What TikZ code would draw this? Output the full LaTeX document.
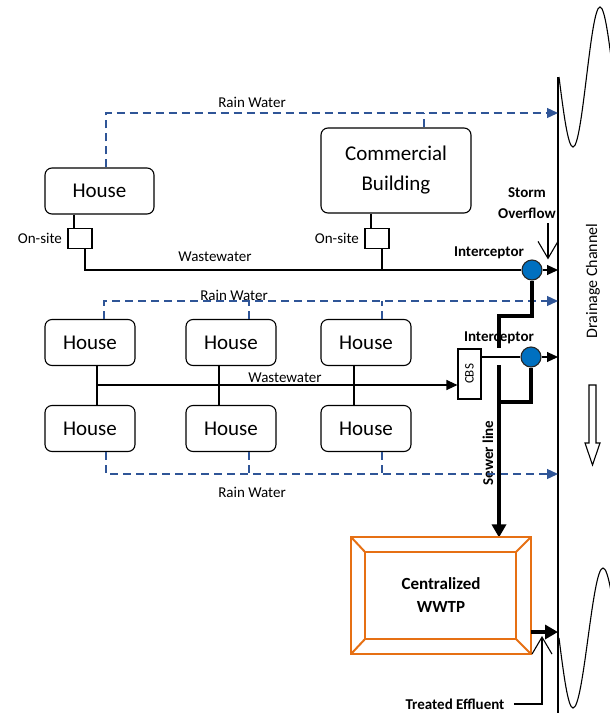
\documentclass[tikz,border=0pt]{standalone}
\usepackage{fontspec}
\setmainfont{Carlito}
\usetikzlibrary{arrows.meta,positioning}
\definecolor{rainblue}{RGB}{47,85,151}
\definecolor{ipblue}{RGB}{0,112,192}
\definecolor{plantorange}{RGB}{230,112,20}
\begin{document}
\begin{tikzpicture}[x=1pt, y=-1pt, line width=1.1pt, font=\fontsize{15}{18}\selectfont]
\tikzstyle{house} = [draw, rounded corners=7pt, minimum width=90pt, minimum height=46pt, font=\fontsize{21}{25}\selectfont]
\tikzstyle{site} = [draw, minimum width=24pt, minimum height=20pt, inner sep=0pt]
\tikzstyle{ip} = [circle, draw=black!85, fill=ipblue, minimum size=20pt, inner sep=0pt]
\tikzstyle{lbl} = [inner sep=1pt, font=\fontsize{15}{18}\selectfont\bfseries]
\tikzstyle{rain} = [draw=rainblue, line width=1.3pt, dash pattern=on 8pt off 5pt]
\tikzstyle{tip} = [-{Triangle[length=11pt, width=10pt]}]
\tikzstyle{sewer} = [line width=4.5pt]
\tikzstyle{plt} = [draw=plantorange, line width=2pt]
\tikzstyle{barb} = [-{Straight Barb[length=17pt, width=20pt]}]

\useasboundingbox (0,0) rectangle (610,713);
\clip (0,0) rectangle (610,713);

\coordinate (dtop) at (558,77);
\coordinate (dbot) at (558,713);
\coordinate (r1) at (558,113);
\coordinate (r2) at (558,301);
\coordinate (r3) at (558,474);

\node[house, minimum width=109pt] (h1) at (99.5,191) {House};
\node[house, minimum width=150pt, minimum height=85pt, align=center, font=\fontsize{21}{30}\selectfont] (cb) at (396,170.5) {Commercial\\Building};
\node[site] (s1) at (80,238.5) {};
\node[site] (s2) at (377,238.5) {};
\node[left=4pt of s1, inner sep=1pt] {On-site};
\node[left=4pt of s2, inner sep=1pt] {On-site};

\node[house] (g1) at (90,342.5) {House};
\node[house] (g2) at (231,342.5) {House};
\node[house] (g3) at (366,342.5) {House};
\node[house] (g4) at (90,428.5) {House};
\node[house] (g5) at (231,428.5) {House};
\node[house] (g6) at (366,428.5) {House};

\node[ip] (ip1) at (532,270) {};
\node[ip] (ip2) at (531,357) {};
\node[draw, minimum width=23pt, minimum height=50pt, inner sep=0pt] (cbs) at (469.5,374) {};
\node[rotate=90, font=\fontsize{13}{15}\selectfont] at (cbs) {CBS};

\node[draw=none, minimum width=178pt, minimum height=115pt, align=center, font=\fontsize{17}{23}\selectfont\bfseries] (wwtp) at (441,595.5) {Centralized\\WWTP};

% labels
\node at (252,102) {Rain Water};
\node at (215,257) {Wastewater};
\node at (234,295) {Rain Water};
\node at (285,378) {Wastewater};
\node at (252,492) {Rain Water};
\node[lbl, align=center, font=\fontsize{15}{21}\selectfont\bfseries] at (527,203.5) {Storm\\Overflow};
\node[lbl] at (489,253) {Interceptor};
\node[lbl] at (499,338) {Interceptor};
\node[lbl, rotate=90] at (488,453) {Sewer line};
\node[lbl] (tef) at (455,704) {Treated Effluent};
\node[rotate=90, font=\fontsize{16}{19}\selectfont] at (593,281) {Drainage Channel};

% drainage channel
\draw (dtop) -- (dbot);
\draw (559,77) sin (573,147) cos (586.5,77) sin (600,7) cos (613.5,77);
\draw (559,638) sin (573,708) cos (588,638) sin (603,568) cos (618,638);
\draw (589,385) -- (596,385) -- (596,443) -- (600,443) -- (592.5,465) -- (585,443) -- (589,443) -- cycle;

% rain water
\draw[rain, tip, rainblue] ([xshift=6.5pt]h1.north) |- (r1);
\draw[rain] ([xshift=28pt]cb.north) -- ([xshift=28pt]cb.north |- r1);
\draw[rain, tip, rainblue] ([xshift=14pt]g1.north) |- (r2);
\draw[rain] ([xshift=18pt]g2.north) -- ([xshift=18pt]g2.north |- r2);
\draw[rain] ([xshift=16pt]g3.north) -- ([xshift=16pt]g3.north |- r2);
\draw[rain, tip, rainblue] ([xshift=16pt]g4.south) |- (r3);
\draw[rain] ([xshift=18pt]g5.south) -- ([xshift=18pt]g5.south |- r3);
\draw[rain] ([xshift=16pt]g6.south) -- ([xshift=16pt]g6.south |- r3);

% wastewater
\draw ([xshift=-25.5pt]h1.south) -- ([xshift=-6pt]s1.north);
\draw ([xshift=-25pt]cb.south) -- ([xshift=-6pt]s2.north);
\draw ([xshift=5pt]s1.south) |- (ip1.west);
\draw ([xshift=5pt]s2.south) -- ([xshift=5pt]s2.south |- ip1.west);
\draw ([xshift=7pt]g1.south) -- ([xshift=7pt]g4.north);
\draw ([xshift=-12pt]g2.south) -- ([xshift=-12pt]g5.north);
\draw ([xshift=-12pt]g3.south) -- ([xshift=-12pt]g6.north);
\coordinate (w2) at (97,385);
\draw[tip] (w2) -- (w2 -| cbs.west);
\draw (ip2.west -| cbs.east) -- (ip2.west);
\draw[tip] (ip1.east) -- (ip1.east -| dtop);
\draw[tip] (ip2.east) -- (ip2.east -| dtop);
\coordinate (so) at (548,223);
\draw[barb] (so) -- (so |- ip1.north);

% sewer line
\coordinate (sw1) at (499,316);
\coordinate (sw2) at (499,348);
\coordinate (sw3) at (499,365);
\coordinate (sw4) at (499,402);
\draw[sewer] (ip1.south) |- (sw1) -- (sw2);
\draw[sewer] (ip2.south) |- (sw4);
\draw[sewer, -{Triangle[length=13pt, width=14pt]}] (sw3) -- (sw3 |- wwtp.north);

% treatment plant
\draw[plt] (wwtp.north west) rectangle (wwtp.south east);
\draw[plt] ([shift={(14,15)}]wwtp.north west) rectangle ([shift={(-15,-15)}]wwtp.south east);
\foreach \c/\dx/\dy in {north west/14/15, north east/-15/15, south east/-15/-15, south west/14/-15}
  \draw[plt] (wwtp.\c) -- ++(\dx,\dy);
\coordinate (te) at (558,632);
\coordinate (tev) at (542,636);
\draw[barb] ([xshift=8pt]tef.east) -| (tev);
\draw[sewer, -{Triangle[length=13pt, width=14pt]}] (te -| wwtp.east) -- (te);
\end{tikzpicture}
\end{document}
